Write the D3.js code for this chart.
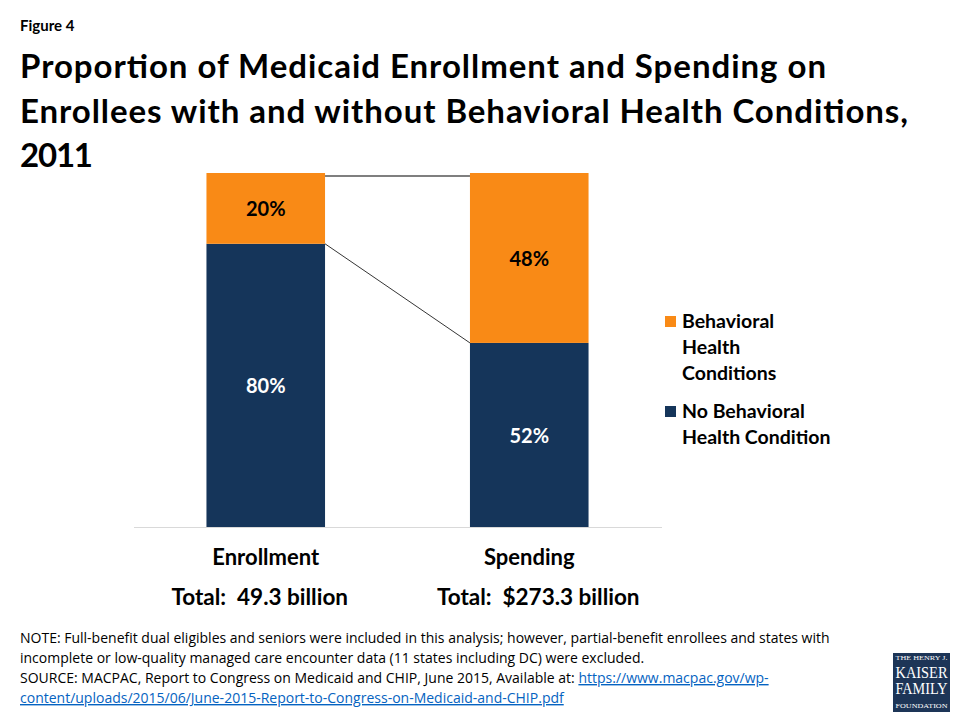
<!DOCTYPE html>
<html>
<head>
<meta charset="utf-8">
<script src="https://cdn.jsdelivr.net/npm/d3@7"></script>
<style>
  body { margin: 0; background: #fff; }
  svg { display: block; }
</style>
</head>
<body>
<div id="vis"></div>
<script>
const categorias = ["Enrollment", "Spending"];
const totales = ["Total:  49.3 billion", "Total:  $273.3 billion"];
const sin_condicion = [80, 52];   // No Behavioral Health Condition
const con_condicion = [20, 48];   // Behavioral Health Conditions
const series = ["No Behavioral Health Condition", "Behavioral Health Conditions"];
const leyenda = [["Behavioral", "Health", "Conditions"], ["No Behavioral", "Health Condition"]];

const WIDTH = 960;
const HEIGHT = 720;
const NARANJA = "#F98A16";
const AZUL = "#15355A";
const FONT = "Lato, 'Open Sans', sans-serif";

const SVG = d3.select("#vis").append("svg").attr("width", WIDTH).attr("height", HEIGHT);

// titulo
SVG.append("text").attr("x", 20).attr("y", 31).text("Figure 4")
    .style("font-family", FONT).style("font-weight", "bold").style("font-size", "15px");

const titulo = [["Proportion of Medicaid Enrollment and Spending on", 806],
    ["Enrollees with and without Behavioral Health Conditions,", 888], ["2011", 73]];
SVG.append("g").selectAll("text").data(titulo).join("text")
    .attr("x", 20).attr("y", (d, i) => 78 + i * 44.5)
    .attr("textLength", d => d[1]).attr("lengthAdjust", "spacing")
    .text(d => d[0])
    .style("font-family", FONT).style("font-weight", "bold").style("font-size", "33px")
    .attr("fill", "#000");

// escalas
const x = d3.scaleBand().domain(categorias).range([134, 661]).paddingInner(0.55).paddingOuter(0.275);
const y = d3.scaleLinear().domain([0, 100]).range([527, 173]);

const datos = categorias.map((c, i) => ({ cat: c, no: sin_condicion[i], si: con_condicion[i], total: totales[i] }));
const apilado = d3.stack().keys(["no", "si"])(datos);
const colores = { no: AZUL, si: NARANJA };

// eje base
SVG.append("line").attr("x1", 134).attr("x2", 662).attr("y1", y(0) + 0.5).attr("y2", y(0) + 0.5)
    .attr("stroke", "#d9d9d9").attr("stroke-width", 1);

const barras = SVG.append("g");
apilado.forEach(capa => {
    barras.selectAll(null).data(capa).join("rect")
        .attr("x", d => x(d.data.cat))
        .attr("width", x.bandwidth())
        .attr("y", d => y(d[1]))
        .attr("height", d => y(d[0]) - y(d[1]))
        .attr("fill", colores[capa.key]);
    barras.selectAll(null).data(capa).join("text")
        .attr("x", d => x(d.data.cat) + x.bandwidth() / 2)
        .attr("y", d => (y(d[0]) + y(d[1])) / 2 + 8)
        .attr("text-anchor", "middle")
        .text(d => (d[1] - d[0]) + "%")
        .attr("fill", capa.key === "no" ? "#fff" : "#000")
        .style("font-family", FONT).style("font-weight", "bold").style("font-size", "20px");
});

// lineas de serie
apilado.forEach(capa => {
    const a = capa[0], b = capa[1];
    SVG.append("line")
        .attr("x1", x(a.data.cat) + x.bandwidth()).attr("y1", y(a[1]) + (capa.key === "si" ? 3 : 0))
        .attr("x2", x(b.data.cat)).attr("y2", y(b[1]) + (capa.key === "si" ? 3 : 0))
        .attr("stroke", "#000").attr("stroke-width", capa.key === "si" ? 1.2 : 0.8);
});

// etiquetas de categoria
SVG.append("g").selectAll("text").data(datos).join("text")
    .attr("x", d => x(d.cat) + x.bandwidth() / 2)
    .attr("y", 565)
    .attr("text-anchor", "middle")
    .text(d => d.cat)
    .style("font-family", FONT).style("font-weight", "bold").style("font-size", "22px");

SVG.append("g").selectAll("text").data(datos).join("text")
    .attr("x", (d, i) => x(d.cat) + x.bandwidth() / 2 + (i === 0 ? -6 : 9))
    .attr("y", 605)
    .attr("text-anchor", "middle")
    .attr("xml:space", "preserve")
    .style("white-space", "pre")
    .text(d => d.total)
    .style("font-family", FONT).style("font-weight", "bold").style("font-size", "22.5px");

// leyenda
const leyendaG = SVG.append("g");
const leyY = [316, 406];
[NARANJA, AZUL].forEach((c, i) => {
    leyendaG.append("rect").attr("x", 665).attr("y", leyY[i]).attr("width", 11).attr("height", 11).attr("fill", c);
    leyendaG.append("text").selectAll("tspan").data(leyenda[i]).join("tspan")
        .attr("x", 682).attr("y", (d, j) => leyY[i] + 12 + j * 26)
        .text(d => d);
});
leyendaG.selectAll("text")
    .style("font-family", FONT).style("font-weight", "bold").style("font-size", "19.5px");

// notas
const notas = SVG.append("g").style("font-family", "'Liberation Sans Narrow', 'Open Sans', sans-serif")
    .style("font-size", "14px").style("white-space", "pre");
notas.append("text").attr("x", 20).attr("y", 643)
    .text("NOTE: Full-benefit dual eligibles and seniors were included in this analysis; however, partial-benefit enrollees and states with");
notas.append("text").attr("x", 20).attr("y", 663)
    .text("incomplete or low-quality managed care encounter  data (11 states including DC) were excluded.");
const src = notas.append("text").attr("x", 20).attr("y", 683);
src.append("tspan").text("SOURCE:  MACPAC, Report to Congress on Medicaid and CHIP, June 2015, Available at: ");
src.append("tspan").attr("fill", "#0563C1").style("text-decoration", "underline").text("https://www.macpac.gov/wp-");
notas.append("text").attr("x", 20).attr("y", 703).attr("fill", "#0563C1").style("text-decoration", "underline")
    .text("content/uploads/2015/06/June-2015-Report-to-Congress-on-Medicaid-and-CHIP.pdf");

// logo
const logo = SVG.append("g").attr("transform", "translate(893,653)");
logo.append("rect").attr("width", 57).attr("height", 59).attr("fill", "#1d3557");
const logoTxt = [["THE HENRY J.", 7, 6.5], ["KAISER", 25, 16], ["FAMILY", 41, 16], ["FOUNDATION", 55, 7]];
logo.selectAll("text").data(logoTxt).join("text")
    .attr("x", 28.5).attr("y", d => d[1])
    .attr("text-anchor", "middle")
    .attr("textLength", 52).attr("lengthAdjust", "spacingAndGlyphs")
    .attr("fill", "#fff")
    .style("font-family", "'Liberation Serif', 'DejaVu Serif', serif")
    .style("font-size", d => d[2] + "px")
    .text(d => d[0]);
</script>
</body>
</html>
